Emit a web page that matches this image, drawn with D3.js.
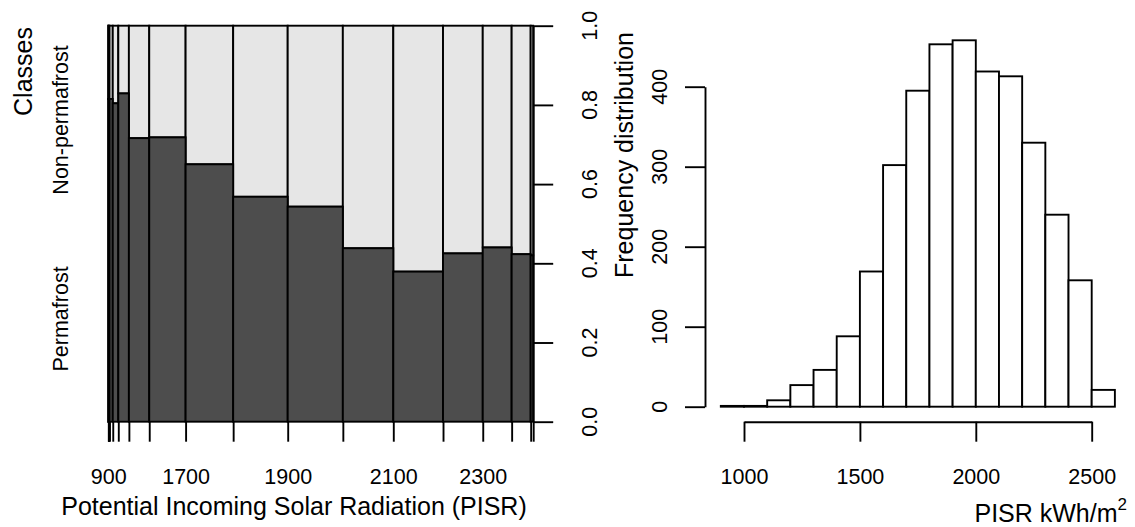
<!DOCTYPE html>
<html>
<head>
<meta charset="utf-8">
<script src="https://cdn.jsdelivr.net/npm/d3@7"></script>
<style>
  html, body { margin: 0; padding: 0; background: #fff; }
  svg { display: block; font-family: "Liberation Sans", Arial, sans-serif; }
</style>
</head>
<body>
<svg id="chart" width="1135" height="527"></svg>
<script>
// PISR classes (100 kWh/m2 wide), lower bounds
const binStarts = [900, 1000, 1100, 1200, 1300, 1400, 1500, 1600, 1700, 1800, 1900, 2000, 2100, 2200, 2300, 2400, 2500];
const binWidth = 100;
// number of cells per class
const counts = [1, 1, 8, 27, 46, 88, 169, 302, 395, 453, 458, 419, 413, 330, 240, 158, 21];
// share of permafrost cells per class
const permafrostShare = [0.815, 0.815, 0.815, 0.815, 0.804, 0.829, 0.716, 0.718, 0.650, 0.568, 0.543, 0.438, 0.379, 0.425, 0.440, 0.423, 0.420];
const classLevels = ["Permafrost", "Non-permafrost"];
const spineLabels = [900, 1700, 1900, 2100, 2300];
const spineYTicks = [0, 0.2, 0.4, 0.6, 0.8, 1.0];
const histXTicks = [1000, 1500, 2000, 2500];
const histYTicks = [0, 100, 200, 300, 400];

const svg = d3.select("#chart");
const LW = 1.9;
const tickFont = 21.5, titleFont = 25;

// ---------------- Spineplot ----------------
const breaks = binStarts.concat([binStarts[binStarts.length - 1] + binWidth]);
const cum = [0];
counts.forEach(c => cum.push(cum[cum.length - 1] + c));
const total = cum[cum.length - 1];

const countX = d3.scaleLinear().domain([0, total]).range([108.3, 533.2]);
// piecewise scale: each break sits at its cumulative count position
const spineX = d3.scaleLinear().domain(breaks).range(cum.map(countX));
const spineY = d3.scaleLinear().domain([0, 1]).range([421.7, 25.7]);

const bins = binStarts.map((b, i) => ({ x0: b, x1: b + binWidth, p: permafrostShare[i] }));
const spine = svg.append("g");

spine.selectAll("rect.upper").data(bins).join("rect")
  .attr("class", "upper")
  .attr("x", d => spineX(d.x0)).attr("width", d => spineX(d.x1) - spineX(d.x0))
  .attr("y", spineY(1)).attr("height", d => spineY(d.p) - spineY(1))
  .attr("fill", "#E6E6E6").attr("stroke", "#000").attr("stroke-width", LW);

spine.selectAll("rect.lower").data(bins).join("rect")
  .attr("class", "lower")
  .attr("x", d => spineX(d.x0)).attr("width", d => spineX(d.x1) - spineX(d.x0))
  .attr("y", d => spineY(d.p)).attr("height", d => spineY(0) - spineY(d.p))
  .attr("fill", "#4D4D4D").attr("stroke", "#000").attr("stroke-width", LW);

// bottom axis: a tick at every break, labels where they fit
const spineAxisX = spine.append("g")
  .attr("transform", `translate(0,${spineY(0)})`)
  .call(d3.axisBottom(spineX).tickValues(breaks).tickSize(20).tickSizeOuter(0)
    .tickFormat(d => spineLabels.includes(d) ? String(d) : ""));
spineAxisX.select(".domain").remove();
spineAxisX.selectAll("line").attr("stroke", "#000").attr("stroke-width", LW);
spineAxisX.selectAll("text").attr("font-size", tickFont).attr("fill", "#000")
  .attr("font-family", "Liberation Sans, Arial, sans-serif").attr("y", 47).attr("dy", "0.71em");

// right axis (proportions)
const spineAxisY = spine.append("g")
  .attr("transform", `translate(${countX(total)},0)`)
  .call(d3.axisRight(spineY).tickValues(spineYTicks).tickSize(20).tickSizeOuter(0).tickFormat(""));
spineAxisY.select(".domain").attr("stroke", "#000").attr("stroke-width", LW);
spineAxisY.selectAll("line").attr("stroke", "#000").attr("stroke-width", LW);

spine.selectAll("text.ylab").data(spineYTicks).join("text")
  .attr("class", "ylab")
  .attr("transform", d => `translate(596.5,${spineY(d)}) rotate(-90)`)
  .attr("text-anchor", "middle").attr("font-size", tickFont)
  .text(d => d3.format(".1f")(d));

// class labels on the left
const overall = d3.sum(counts.map((c, i) => c * permafrostShare[i])) / total;
const levelPos = [overall / 2, (overall + 1) / 2];
spine.selectAll("text.level").data(classLevels).join("text")
  .attr("class", "level")
  .attr("transform", (d, i) => `translate(68,${spineY(levelPos[i]) + (i === 0 ? 4 : 3)}) rotate(-90)`)
  .attr("text-anchor", "middle").attr("font-size", tickFont)
  .text(d => d);

svg.append("text")
  .attr("transform", "translate(32,71.5) rotate(-90)")
  .attr("text-anchor", "middle").attr("font-size", titleFont)
  .text("Classes");

svg.append("text")
  .attr("x", 294).attr("y", 515)
  .attr("text-anchor", "middle").attr("font-size", titleFont)
  .text("Potential Incoming Solar Radiation (PISR)");

svg.append("text")
  .attr("transform", "translate(633,155) rotate(-90)")
  .attr("text-anchor", "middle").attr("font-size", titleFont)
  .text("Frequency distribution");

// ---------------- Histogram ----------------
const histX = d3.scaleLinear().domain([1000, 2500]).range([744, 1091.7]);
const histY = d3.scaleLinear().domain([0, 400]).range([406.7, 86.7]);

const hist = svg.append("g");
hist.selectAll("rect").data(binStarts.map((b, i) => ({ x0: b, x1: b + binWidth, n: counts[i] })))
  .join("rect")
  .attr("x", d => histX(d.x0)).attr("width", d => histX(d.x1) - histX(d.x0))
  .attr("y", d => histY(d.n)).attr("height", d => histY(0) - histY(d.n))
  .attr("fill", "#fff").attr("stroke", "#000").attr("stroke-width", LW);

const histAxisX = hist.append("g")
  .attr("transform", "translate(0,421.7)")
  .call(d3.axisBottom(histX).tickValues(histXTicks).tickSize(20).tickSizeOuter(0).tickFormat(d3.format("d")));
histAxisX.select(".domain").attr("stroke", "#000").attr("stroke-width", LW);
histAxisX.selectAll("line").attr("stroke", "#000").attr("stroke-width", LW);
histAxisX.selectAll("text").attr("font-size", tickFont).attr("fill", "#000")
  .attr("font-family", "Liberation Sans, Arial, sans-serif").attr("y", 47).attr("dy", "0.71em");

const histAxisY = hist.append("g")
  .attr("transform", "translate(705,0)")
  .call(d3.axisLeft(histY).tickValues(histYTicks).tickSize(20).tickSizeOuter(0).tickFormat(""));
histAxisY.select(".domain").attr("stroke", "#000").attr("stroke-width", LW);
histAxisY.selectAll("line").attr("stroke", "#000").attr("stroke-width", LW);

hist.selectAll("text.ylab").data(histYTicks).join("text")
  .attr("class", "ylab")
  .attr("transform", d => `translate(667,${histY(d)}) rotate(-90)`)
  .attr("text-anchor", "middle").attr("font-size", tickFont)
  .text(d => d);

const unit = svg.append("text")
  .attr("x", 1127).attr("y", 522)
  .attr("text-anchor", "end").attr("font-size", titleFont);
unit.append("tspan").text("PISR kWh/m");
unit.append("tspan").attr("dy", -12).attr("font-size", 17).text("2");
</script>
</body>
</html>
